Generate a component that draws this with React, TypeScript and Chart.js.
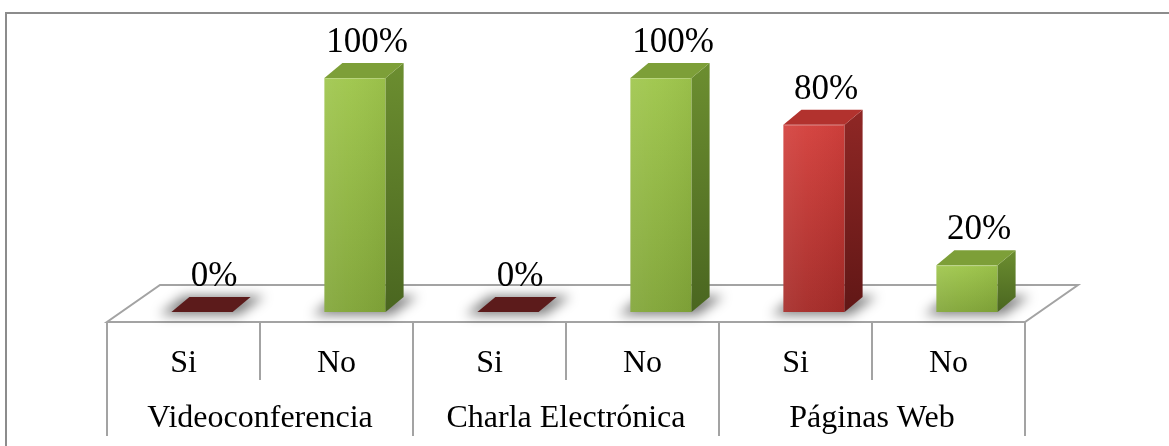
import React, { useEffect, useRef } from "react";
import { Chart, registerables } from "chart.js";
Chart.register(...registerables);

const categories = ["Si", "No", "Si", "No", "Si", "No"];
const groups = ["Videoconferencia", "Charla Electrónica", "Páginas Web"];
const groupSize = 2;
const values = [0, 100, 0, 100, 80, 20];

const W = 1169;
const H = 446;
const DX = 18;
const DY = 15;
const FLOOR_DX = 53;
const FLOOR_DY = 37;
const FRONT_SHIFT = 18.5;
const FLOOR_GAP = 10;

const palette: Record<string, any> = {
  Si: { front: ["#d3403c", "#a52b28"], side: ["#8f2725", "#611716"], top: "#b2322e", flat: "#5c1b1b" },
  No: { front: ["#9fc64c", "#81a538"], side: ["#6c8e30", "#4a6620"], top: "#7d9f38", flat: "#4a6620" },
};

const LINE = "#a3a3a3";
const FONT = '"Liberation Serif", "Times New Roman", serif';

const threeD = {
  id: "threeD",
  beforeDatasetsDraw(chart: any) {
    const { ctx } = chart;
    const xs = chart.scales.x;
    const ys = chart.scales.y;
    const base = ys.getPixelForValue(0);
    const n = categories.length;
    const cw = xs.getPixelForValue(1) - xs.getPixelForValue(0);
    const fl = xs.getPixelForValue(0) - cw / 2 - FRONT_SHIFT;
    const fr = xs.getPixelForValue(n - 1) + cw / 2 - FRONT_SHIFT;
    const fy = base + FLOOR_GAP;
    const by = fy - FLOOR_DY;

    ctx.save();
    ctx.strokeStyle = "#8c8c8c";
    ctx.lineWidth = 2;
    ctx.strokeRect(6, 13, W + 40, H + 40);

    ctx.strokeStyle = LINE;
    ctx.lineWidth = 2;
    ctx.beginPath();
    ctx.moveTo(fl, fy);
    ctx.lineTo(fr, fy);
    ctx.lineTo(fr + FLOOR_DX, by);
    ctx.lineTo(fl + FLOOR_DX, by);
    ctx.closePath();
    ctx.stroke();

    for (let i = 0; i <= n; i++) {
      const x = fl + cw * i;
      const full = i % groupSize === 0;
      ctx.beginPath();
      ctx.moveTo(x, fy);
      ctx.lineTo(x, full ? 436 : 380);
      ctx.stroke();
    }

    const meta = chart.getDatasetMeta(0);
    meta.data.forEach((el: any) => {
      const x0 = el.x - el.width / 2;
      const x1 = el.x + el.width / 2;
      const b = el.base;
      ctx.save();
      ctx.filter = "blur(6px)";
      ctx.fillStyle = "rgba(0,0,0,0.5)";
      ctx.beginPath();
      ctx.moveTo(x0 - 12, b + 3);
      ctx.lineTo(x1 + 6, b + 3);
      ctx.lineTo(x1 + DX + 14, b - DY - 1);
      ctx.lineTo(x0 + DX - 6, b - DY - 1);
      ctx.closePath();
      ctx.fill();
      ctx.restore();
    });
    ctx.restore();
  },
  afterDatasetsDraw(chart: any) {
    const { ctx } = chart;
    const meta = chart.getDatasetMeta(0);
    ctx.save();
    meta.data.forEach((el: any, i: number) => {
      const p = palette[categories[i]];
      const x0 = el.x - el.width / 2;
      const x1 = el.x + el.width / 2;
      const b = el.base;
      const t = el.y;
      if (values[i] > 0) {
        const hg = ctx.createLinearGradient(x0, 0, x1, 0);
        hg.addColorStop(0, "rgba(255,255,255,0.08)");
        hg.addColorStop(0.4, "rgba(255,255,255,0.03)");
        hg.addColorStop(1, "rgba(0,0,0,0.04)");
        ctx.fillStyle = hg;
        ctx.fillRect(x0, t, x1 - x0, b - t);
        const sg = ctx.createLinearGradient(0, t - DY, 0, b);
        sg.addColorStop(0, p.side[0]);
        sg.addColorStop(1, p.side[1]);
        ctx.fillStyle = sg;
        ctx.beginPath();
        ctx.moveTo(x1, t);
        ctx.lineTo(x1 + DX, t - DY);
        ctx.lineTo(x1 + DX, b - DY);
        ctx.lineTo(x1, b);
        ctx.closePath();
        ctx.fill();
        ctx.fillStyle = p.top;
        ctx.beginPath();
        ctx.moveTo(x0, t);
        ctx.lineTo(x1, t);
        ctx.lineTo(x1 + DX, t - DY);
        ctx.lineTo(x0 + DX, t - DY);
        ctx.closePath();
        ctx.fill();
        ctx.strokeStyle = "rgba(255,255,255,0.25)";
        ctx.lineWidth = 1;
        ctx.beginPath();
        ctx.moveTo(x0 + 1, t + 0.5);
        ctx.lineTo(x1 - 1, t + 0.5);
        ctx.stroke();
      } else {
        ctx.fillStyle = p.flat;
        ctx.beginPath();
        ctx.moveTo(x0, b);
        ctx.lineTo(x1, b);
        ctx.lineTo(x1 + DX, b - DY);
        ctx.lineTo(x0 + DX, b - DY);
        ctx.closePath();
        ctx.fill();
      }
      ctx.fillStyle = "#000";
      ctx.font = `35px ${FONT}`;
      ctx.textAlign = "center";
      ctx.textBaseline = "alphabetic";
      ctx.fillText(`${values[i]}%`, el.x + 12, t - 26);
    });
    ctx.restore();
  },
  afterDraw(chart: any) {
    const { ctx } = chart;
    const xs = chart.scales.x;
    ctx.save();
    ctx.fillStyle = "#000";
    ctx.textAlign = "center";
    ctx.textBaseline = "alphabetic";
    ctx.font = `32px ${FONT}`;
    categories.forEach((c, i) => {
      ctx.fillText(c, xs.getPixelForValue(i) - FRONT_SHIFT, 372);
    });
    groups.forEach((g, gi) => {
      const a = xs.getPixelForValue(gi * groupSize);
      const z = xs.getPixelForValue(gi * groupSize + groupSize - 1);
      ctx.fillText(g, (a + z) / 2 - FRONT_SHIFT, 427);
    });
    ctx.restore();
  },
};

export default function App() {
  const ref = useRef<HTMLCanvasElement>(null);
  useEffect(() => {
    if (!ref.current) return;
    const chart = new Chart(ref.current, {
      type: "bar",
      data: {
        labels: categories.map((c, i) => `${groups[Math.floor(i / groupSize)]} ${c}`),
        datasets: [
          {
            data: values,
            borderWidth: 0,
            barPercentage: 0.4,
            categoryPercentage: 1,
            backgroundColor: (c: any) => {
              const i = c.dataIndex;
              if (i === undefined) return "#999";
              const p = palette[categories[i]];
              const ch = c.chart;
              const ys = ch.scales && ch.scales.y;
              if (!ch.chartArea || !ys) return p.front[0];
              const t = ys.getPixelForValue(values[i]);
              const b = ys.getPixelForValue(0);
              if (!isFinite(t) || !isFinite(b) || b - t < 1) return p.front[0];
              const g = ch.ctx.createLinearGradient(0, t, 0, b);
              g.addColorStop(0, p.front[0]);
              g.addColorStop(1, p.front[1]);
              return g;
            },
          },
        ],
      },
      options: {
        responsive: false,
        animation: false,
        devicePixelRatio: 1,
        layout: { padding: { left: 125.5, right: 125.5, top: 78, bottom: 134 } },
        plugins: { legend: { display: false }, tooltip: { enabled: false } },
        scales: {
          x: { display: false, grid: { display: false } },
          y: { display: false, min: 0, max: 100 },
        },
      },
      plugins: [threeD],
    });
    return () => chart.destroy();
  }, []);
  return (
    <div style={{ position: "absolute", left: 0, top: 0, width: W, height: H, background: "#fff" }}>
      <canvas ref={ref} width={W} height={H} style={{ display: "block" }} />
    </div>
  );
}
